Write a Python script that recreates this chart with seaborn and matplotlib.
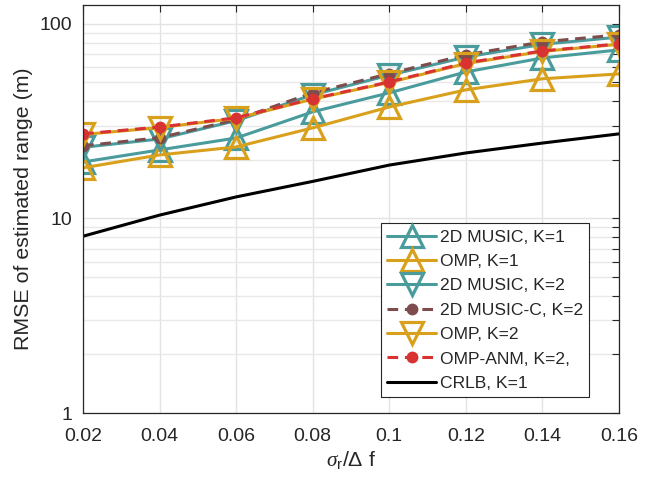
import numpy as np
import pandas as pd
import matplotlib
matplotlib.use("Agg")
import matplotlib.pyplot as plt
from matplotlib.ticker import NullFormatter, LogLocator
import seaborn as sns

sns.set_theme(style="white")
plt.rcParams['font.family'] = ['Liberation Sans', 'DejaVu Sans']
plt.rcParams['mathtext.fontset'] = 'custom'
plt.rcParams['mathtext.rm'] = 'Liberation Sans'
plt.rcParams['mathtext.it'] = 'Liberation Serif:italic'

# data
sigma = [0.02, 0.04, 0.06, 0.08, 0.10, 0.12, 0.14, 0.16]
x_tick_labels = ["0.02", "0.04", "0.06", "0.08", "0.1", "0.12", "0.14", "0.16"]
music_k1 = [19.5, 22.5, 25.9, 35.3, 44.2, 56.6, 66.8, 73.5]
omp_k1 = [18.2, 21.2, 23.3, 29.2, 37.4, 45.8, 52.2, 55.3]
music_k2 = [23.2, 25.6, 31.8, 43.2, 54.5, 67.5, 78.5, 85.5]
music_c_k2 = [23.6, 26.0, 32.2, 44.2, 55.5, 69.3, 80.8, 87.8]
omp_k2 = [27.0, 29.3, 32.7, 41.0, 50.0, 62.5, 72.2, 78.5]
omp_anm_k2 = [27.2, 29.5, 32.9, 41.2, 50.3, 63.0, 72.6, 78.9]
crlb_k1 = [8.1, 10.4, 12.9, 15.5, 18.8, 21.7, 24.4, 27.2]
y_ticks = [1, 10, 100]
y_tick_labels = ["1", "10", "100"]

teal = "#4a9c9c"
orange = "#d9a01c"
brown = "#7e4c4c"
red = "#d83232"

fig = plt.figure(figsize=(6.52, 4.80), dpi=100)
ax = fig.add_axes([83/652, 1 - 413/480, (619-83)/652, (413-5)/480])

lw = 2.2
tri = dict(markersize=15.5, markerfacecolor="none", markeredgewidth=2.3, linestyle="-")
dot = dict(markersize=7.5, markeredgewidth=1, linestyle=(0, (3.5, 2.2)))
series = [
    (music_k1, "2D MUSIC, K=1", dict(color=teal, marker="^", markeredgecolor=teal, **tri)),
    (omp_k1, "OMP, K=1", dict(color=orange, marker="^", markeredgecolor=orange, **tri)),
    (music_k2, "2D MUSIC, K=2", dict(color=teal, marker="v", markeredgecolor=teal, **tri)),
    (music_c_k2, "2D MUSIC-C, K=2", dict(color=brown, marker="o", markerfacecolor=brown,
                                          markeredgecolor=brown, **dot)),
    (omp_k2, "OMP, K=2", dict(color=orange, marker="v", markeredgecolor=orange, **tri)),
    (omp_anm_k2, "OMP-ANM, K=2,", dict(color=red, marker="o", markerfacecolor=red,
                                        markeredgecolor=red, **dot)),
    (crlb_k1, "CRLB, K=1", dict(color="black", linestyle="-")),
]

for vals, lab, kw in series:
    df = pd.DataFrame({"x": sigma, "y": vals})
    sns.lineplot(data=df, x="x", y="y", ax=ax, label=lab, linewidth=lw,
                 legend=False, **kw)

ax.set_yscale("log")
ax.set_xlim(0.02, 0.16)
ax.set_ylim(1, 125)
ax.set_xticks(sigma)
ax.set_xticklabels(x_tick_labels)
ax.set_yticks(y_ticks)
ax.set_yticklabels(y_tick_labels)
ax.yaxis.set_minor_locator(LogLocator(base=10, subs=np.arange(2, 10)))
ax.yaxis.set_minor_formatter(NullFormatter())

ax.grid(True, which="major", color="#e3e3e3", linewidth=1.0)
ax.grid(True, which="minor", axis="y", color="#e8e8e8", linewidth=1.0)
ax.set_axisbelow(True)

ax.tick_params(which="both", direction="in", top=True, right=True,
               labelsize=14, colors="#262626")
ax.tick_params(axis="x", which="both", pad=11)
ax.tick_params(axis="y", which="both", pad=7.5)
ax.tick_params(which="major", length=5, width=0.8)
ax.tick_params(which="minor", length=5, width=0.8)
for sp in ax.spines.values():
    sp.set_color("#262626")
    sp.set_linewidth(0.9)

ax.set_xlabel(r"$\sigma_{\mathrm{r}}/\Delta$ f", fontsize=15.4, color="#262626", labelpad=3)
ax.set_ylabel("RMSE of estimated range (m)", fontsize=15.4, color="#262626", labelpad=5)

leg = ax.legend(loc="lower right", bbox_to_anchor=(589/652, 1 - 397/480),
                bbox_transform=fig.transFigure, fontsize=12.6, frameon=True,
                fancybox=False, edgecolor="#262626", framealpha=1,
                handlelength=2.8, handletextpad=0.2, labelspacing=0.52,
                borderpad=0.35, borderaxespad=0)
leg.get_frame().set_linewidth(0.8)

fig.savefig("out.png", dpi=100)
